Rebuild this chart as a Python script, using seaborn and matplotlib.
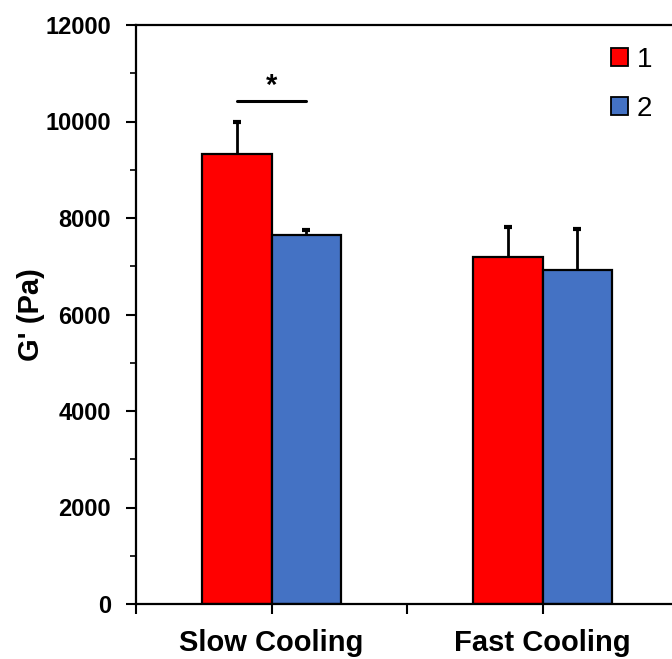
import numpy as np
import pandas as pd
import matplotlib.pyplot as plt
import seaborn as sns
from matplotlib.ticker import MultipleLocator

# Data
conditions = ['Slow Cooling', 'Fast Cooling']
groups = ['1', '2']
g_prime_1 = [9320, 7200]
g_prime_2 = [7640, 6930]
err_1 = [660, 610]
err_2 = [115, 850]

df = pd.DataFrame({
    'Condition': conditions * 2,
    'Group': [groups[0]] * 2 + [groups[1]] * 2,
    'G': g_prime_1 + g_prime_2,
    'Err': err_1 + err_2,
})

sns.set_style('ticks')
plt.rcParams['font.family'] = ['Liberation Sans', 'DejaVu Sans']
plt.rcParams.update({'text.color': 'black', 'axes.labelcolor': 'black',
                     'xtick.color': 'black', 'ytick.color': 'black',
                     'axes.edgecolor': 'black'})

fig = plt.figure(figsize=(6.72, 6.59), dpi=100)
ax = fig.add_axes([136 / 672, 55 / 659, 542 / 672, 579 / 659])

sns.barplot(data=df, x='Condition', y='G', hue='Group', order=conditions,
            hue_order=groups, palette=['#FF0000', '#4472C4'], width=0.51,
            errorbar=None, edgecolor='black', linewidth=1.6, saturation=1,
            ax=ax)

# upward-only error bars at the bar centres (cap on top only)
for patch_group, grp in zip(ax.containers, groups):
    sub = df[df['Group'] == grp]
    xs = np.array([p.get_x() + p.get_width() / 2 for p in patch_group])
    ys = sub['G'].values
    tops = ys + sub['Err'].values
    ax.vlines(xs, ys, tops, color='black', lw=2)
    ax.plot(xs, tops, ls='none', marker='_', ms=6, mew=3, color='black')

# significance marker
sig_x = [p.get_x() + p.get_width() / 2 for p in
         [ax.containers[0][0], ax.containers[1][0]]]
ax.plot(sig_x, [10420, 10420], color='black', lw=2.2)
ax.text(np.mean(sig_x), 10450, '*', ha='center', va='bottom',
        fontsize=21, fontweight='bold')

ax.set_ylim(0, 12000)
ax.set_xlim(-0.5, 1.5)
ax.yaxis.set_major_locator(MultipleLocator(2000))
ax.yaxis.set_minor_locator(MultipleLocator(1000))
ax.set_xticks([-0.5, 0, 0.5, 1, 1.5], minor=False)
ax.set_xticklabels(['', conditions[0], '', conditions[1], ''])
ax.tick_params(axis='x', length=7, width=1.5, pad=11, labelsize=21)
ax.tick_params(axis='y', which='major', length=7, width=1.5, labelsize=17,
               pad=11)
ax.tick_params(axis='y', which='minor', length=4, width=1.2)
for lab in ax.get_xticklabels() + ax.get_yticklabels():
    lab.set_fontweight('bold')

ax.set_xlabel('')
ax.set_ylabel("G' (Pa)", fontsize=21, fontweight='bold', labelpad=0)

for side in ['left', 'bottom', 'top']:
    ax.spines[side].set_linewidth(1.6)
ax.spines['right'].set_visible(False)

leg = ax.legend(loc='upper right', bbox_to_anchor=(0.998, 1.006), frameon=False,
                fontsize=20, handlelength=0.62, handleheight=0.62,
                handletextpad=0.3, labelspacing=0.85)
for h in leg.legend_handles:
    h.set_linewidth(1.3)

fig.savefig('out.png', dpi=100)
